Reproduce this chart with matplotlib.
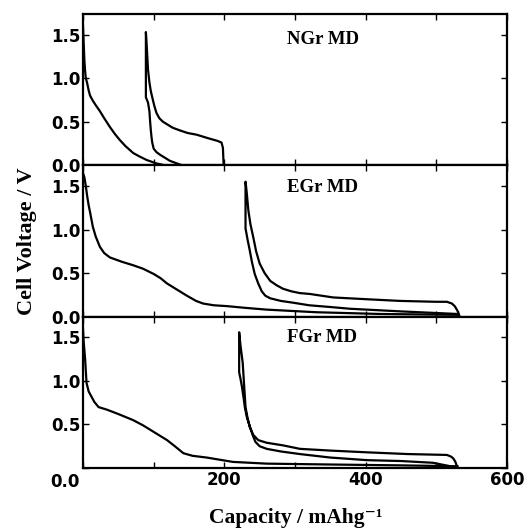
import matplotlib
matplotlib.use("Agg")
import matplotlib.pyplot as plt

# ---- data (capacity mAh/g, voltage V)
names = ["NGr MD", "EGr MD", "FGr MD"]

ngr_1st_x = [0, 1, 2, 3, 4, 5.7, 8, 10, 14, 18, 24, 30, 38, 45, 52, 60, 71, 80, 90, 97, 104, 110, 115]
ngr_1st_y = [1.6, 1.4, 1.2, 1.08, 1.0, 0.95, 0.86, 0.80, 0.74, 0.69, 0.62, 0.54, 0.44, 0.36, 0.29, 0.22, 0.14, 0.10, 0.06, 0.04, 0.02, 0.01, 0.0]
ngr_2nd_x = [140, 133, 123, 115, 109, 104, 100, 98, 97, 96, 95, 94, 92, 90, 89,
             89, 90, 91, 92, 94, 96, 98, 101, 104, 108, 113, 119, 127, 137, 148, 161, 177, 190, 196, 198, 199]
ngr_2nd_y = [0.0, 0.02, 0.05, 0.09, 0.12, 0.15, 0.19, 0.26, 0.32, 0.40, 0.50, 0.62, 0.72, 0.76, 0.78,
             1.53, 1.4, 1.25, 1.10, 0.95, 0.85, 0.78, 0.68, 0.60, 0.54, 0.50, 0.47, 0.43, 0.40, 0.37, 0.35, 0.31, 0.28, 0.26, 0.2, 0.0]

egr_1st_x = [0, 2, 4, 6, 8, 10, 14, 18, 24, 30, 38, 55, 71, 85, 100, 110, 119, 133, 147, 160, 170, 185, 204, 230, 260, 330, 420, 530]
egr_1st_y = [1.65, 1.6, 1.5, 1.38, 1.28, 1.2, 1.03, 0.92, 0.80, 0.73, 0.68, 0.63, 0.59, 0.55, 0.49, 0.44, 0.38, 0.31, 0.24, 0.18, 0.15, 0.13, 0.12, 0.10, 0.08, 0.05, 0.03, 0.02]
egr_2nd_x = [530, 449, 378, 350, 320, 297, 280, 265, 258, 253, 248, 243, 239, 236, 233, 231, 230,
             230, 231, 232, 234, 237, 241, 245, 250, 257, 265, 274, 283, 295, 307, 321, 354, 400, 449, 500, 515, 522, 526, 529, 531, 533]
egr_2nd_y = [0.03, 0.06, 0.09, 0.11, 0.13, 0.16, 0.18, 0.21, 0.24, 0.29, 0.38, 0.49, 0.63, 0.76, 0.88, 0.97, 1.01,
             1.55, 1.48, 1.4, 1.22, 1.06, 0.91, 0.75, 0.61, 0.50, 0.41, 0.36, 0.32, 0.29, 0.27, 0.26, 0.22, 0.20, 0.18, 0.17, 0.17, 0.15, 0.12, 0.08, 0.05, 0.0]

fgr_1st_x = [0, 1, 3, 5, 8, 12, 16, 22, 34, 50, 71, 85, 95, 107, 119, 130, 142, 155, 175, 212, 260, 350, 450, 530]
fgr_1st_y = [1.6, 1.45, 1.25, 0.98, 0.88, 0.82, 0.76, 0.70, 0.67, 0.62, 0.55, 0.49, 0.44, 0.38, 0.32, 0.25, 0.17, 0.14, 0.12, 0.07, 0.05, 0.04, 0.03, 0.02]
fgr_2nd_x = [520, 495, 450, 402, 350, 307, 280, 260, 250, 244, 240, 236, 232, 229, 227, 225, 223, 221,
             221, 222, 223, 226, 228, 230, 233, 236, 241, 248, 260, 283, 307, 350, 402, 460, 515, 521, 524, 527, 530]
fgr_2nd_y = [0.02, 0.06, 0.08, 0.09, 0.12, 0.16, 0.19, 0.22, 0.25, 0.30, 0.38, 0.48, 0.58, 0.70, 0.82, 0.93, 1.02, 1.10,
             1.56, 1.48, 1.4, 1.21, 0.95, 0.70, 0.57, 0.47, 0.38, 0.32, 0.29, 0.26, 0.22, 0.20, 0.18, 0.16, 0.15, 0.13, 0.11, 0.07, 0.0]

x_ticks = [0, 100, 200, 300, 400, 500, 600]
x_labels = ["", "", "200", "", "400", "", "600"]
y_ticks = [0.0, 0.5, 1.0, 1.5]
y_labels = ["0.0", "0.5", "1.0", "1.5"]

curves = [
    (ngr_1st_x, ngr_1st_y, ngr_2nd_x, ngr_2nd_y),
    (egr_1st_x, egr_1st_y, egr_2nd_x, egr_2nd_y),
    (fgr_1st_x, fgr_1st_y, fgr_2nd_x, fgr_2nd_y),
]
label_y = [1.44, 1.48, 1.50]

serif = ["Liberation Serif", "DejaVu Serif"]
sans = "DejaVu Sans"

fig, axes = plt.subplots(3, 1, figsize=(5.32, 5.30), dpi=100, sharex=True)
fig.subplots_adjust(left=0.156, right=0.953, top=0.974, bottom=0.117, hspace=0)

for i, ax in enumerate(axes):
    x1, y1, x2, y2 = curves[i]
    ax.plot(x1, y1, color="k", lw=1.6)
    ax.plot(x2, y2, color="k", lw=1.6)
    ax.set_xlim(0, 600)
    ax.set_ylim(0, 1.74)
    ax.set_xticks(x_ticks)
    ax.set_yticks(y_ticks)
    ax.tick_params(direction="in", top=True, right=True, length=4, width=1, pad=2)
    for s in ax.spines.values():
        s.set_linewidth(1.6)
    ax.set_yticklabels(y_labels, fontname=sans, fontsize=12, fontweight="bold")
    if i == 2:
        ax.set_yticklabels(["", "0.5", "1.0", "1.5"], fontname=sans, fontsize=12, fontweight="bold")
        ax.set_xticklabels(x_labels, fontname=sans, fontsize=12, fontweight="bold")
        ax.text(-0.008, -0.09, "0.0", transform=ax.transAxes, ha="right", va="center",
                fontname=sans, fontsize=12, fontweight="bold")
    ax.text(289, label_y[i], names[i], family=serif, fontsize=13.5, fontweight="bold",
            ha="left", va="center")

fig.text(27 / 532, 0.545, "Cell Voltage / V", rotation=90, ha="center", va="center",
         family=serif, fontsize=16, fontweight="bold")
fig.text(0.555, 0.023, "Capacity / mAhg\u207b\u00b9", ha="center", va="center",
         family=serif, fontsize=15.5, fontweight="bold")

fig.savefig("out.png", dpi=100)
